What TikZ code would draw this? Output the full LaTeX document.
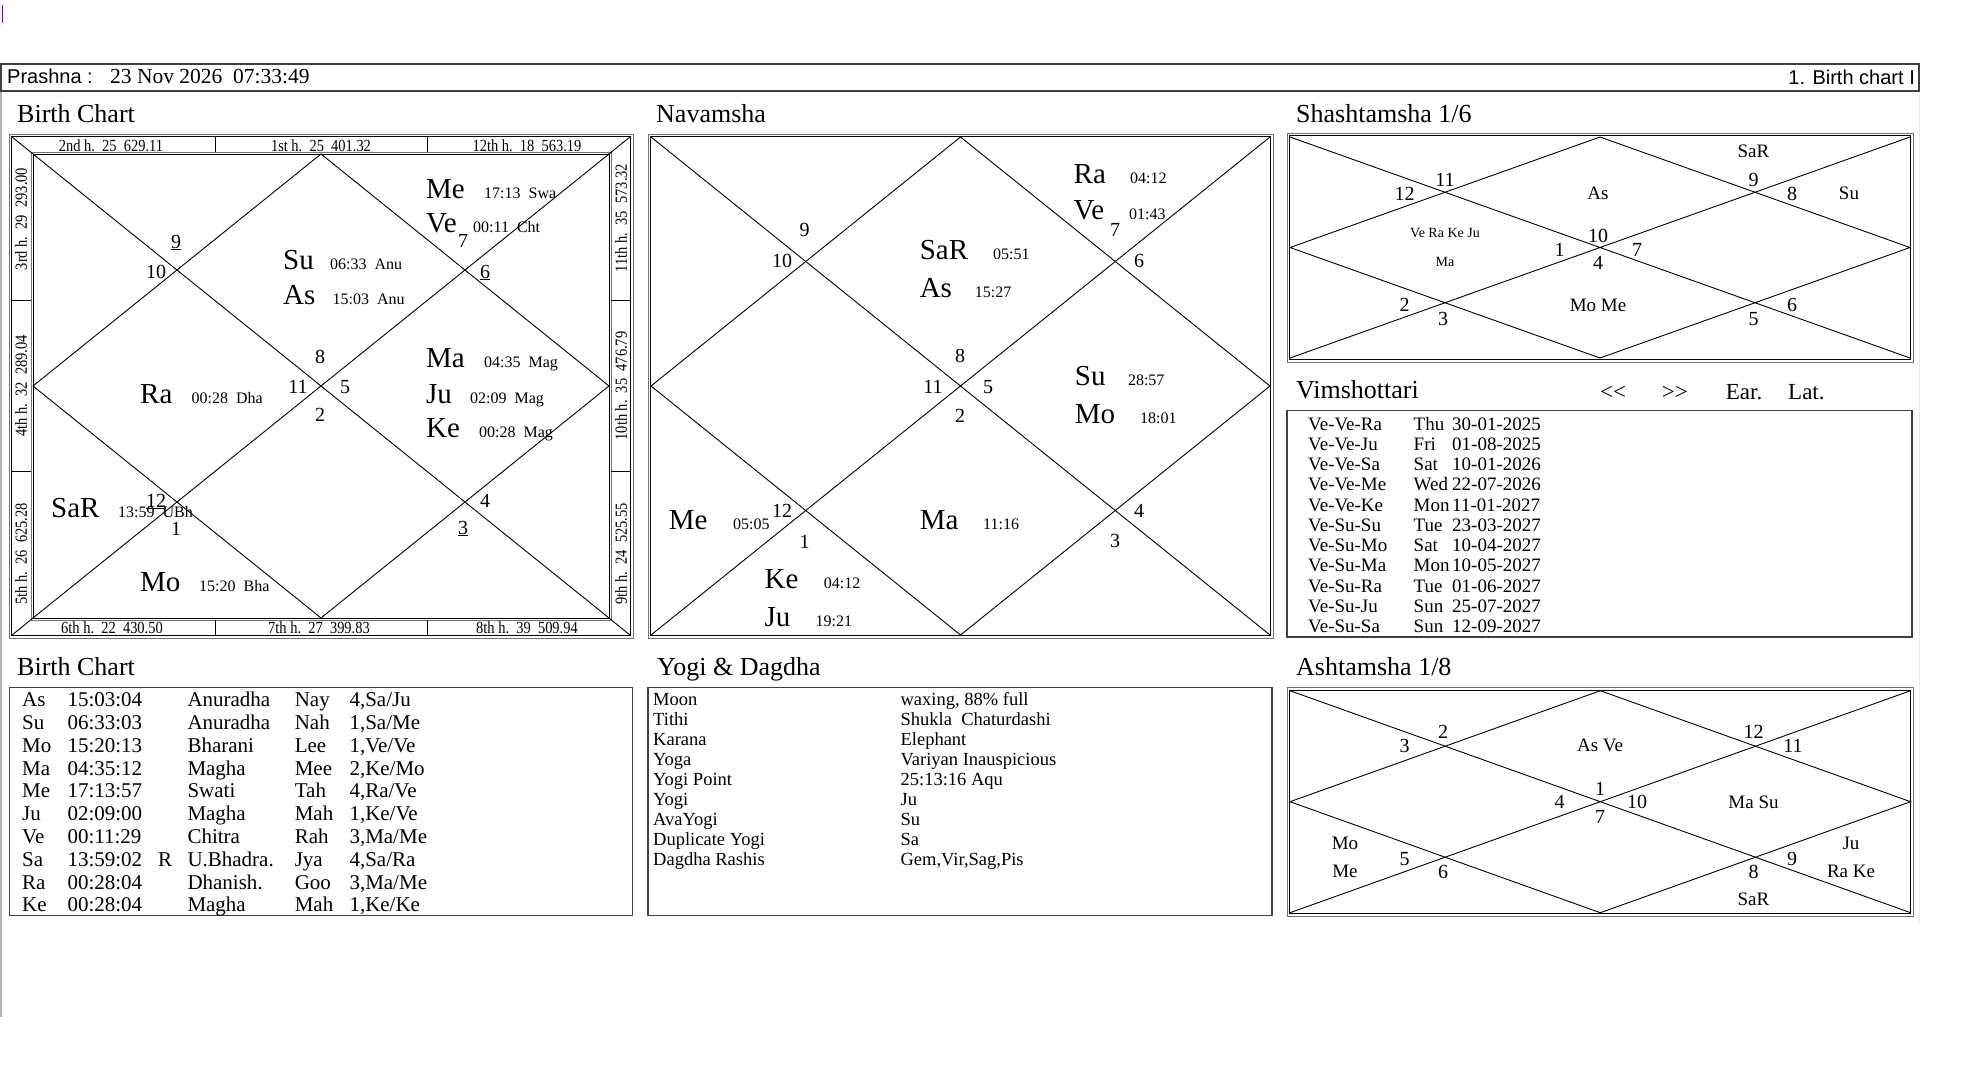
\documentclass[tikz,border=0pt]{standalone}
\usepackage{fontspec}
\setmainfont{Liberation Serif}
\newfontfamily\headfont{Liberation Sans}
\newfontfamily\stripfont[FakeStretch=0.85]{Liberation Serif}
\usetikzlibrary{calc}

\tikzset{
  every node/.append style={inner sep=0pt},
  paneltitle/.style={font=\fontsize{26}{26}\selectfont, anchor=base west},
  planet/.style={font=\fontsize{29}{29}\selectfont, anchor=base west},
  planetdeg/.style={font=\fontsize{16}{16}\selectfont, anchor=base west},
  signno/.style={font=\fontsize{20}{20}\selectfont, anchor=base},
  vargalbl/.style={font=\fontsize{19}{19}\selectfont, anchor=base},
  housestrip/.style={font=\stripfont\fontsize{17}{17}\selectfont},
  tabrow/.style={font=\fontsize{#1}{#1}\selectfont, anchor=base west},
  chartline/.style={line width=0.9pt},
  boxline/.style={line width=1.2pt, black!75},
}

% diagonals and diamond of a north indian chart
\newcommand{\chartlines}[4]{%
  \pgfmathsetmacro{\cmidx}{(#1+#3)/2}%
  \pgfmathsetmacro{\cmidy}{(#2+#4)/2}%
  \draw[chartline] (#1,#2) -- (#3,#4) (#3,#2) -- (#1,#4);
  \draw[chartline] (\cmidx,#2) -- (#3,\cmidy) -- (\cmidx,#4) -- (#1,\cmidy) -- cycle;
}
% double frame
\newcommand{\chartframe}[4]{%
  \draw[line width=1pt, black!55] (#1,#2) rectangle (#3,#4);
  \draw[line width=1pt] ($(#1,#2)+(2.5,2.5)$) rectangle ($(#3,#4)+(-2.5,-2.5)$);
}

\begin{document}
\begin{tikzpicture}[x=1pt,y=-1pt]
  \useasboundingbox[fill=white] (0,0) rectangle (1968,1084);
  % window edges
    \draw[violet, line width=1pt] (2,5) -- (2,23);
    \draw[gray!60, line width=1.5pt] (1,91) -- (1,1017);
    \draw[gray!15, line width=1pt] (1919.5,91) -- (1919.5,922);
  % header
    \draw[boxline] (1,64) rectangle (1919,91);
    \node[anchor=base west, font=\headfont\fontsize{20}{20}\selectfont] (hd-kind) at (7,83) {Prashna :};
    \node[anchor=base west, font=\fontsize{21.5}{21.5}\selectfont] (hd-date) at (110,83) {23 Nov 2026~~07:33:49};
    \node[anchor=base east, font=\headfont\fontsize{20}{20}\selectfont] (hd-tab) at (1915,84) {1. Birth chart I};

  % birth chart
    \node[paneltitle] (t-rasi) at (17,122) {Birth Chart};
    \chartframe{9}{134}{633}{638}
    \draw[line width=1pt, black!55] (31,152) rectangle (611,620);
    \draw[line width=1pt] (33,154) rectangle (609,618);
    \foreach \a/\b/\c/\d in {11.5/136.5/33/154, 630.5/136.5/609/154, 630.5/635.5/609/618, 11.5/635.5/33/618}
        \draw[chartline] (\a,\b) -- (\c,\d);
    \foreach \x in {215.5,427}{
        \draw[chartline] (\x,136.5) -- (\x,152);
        \draw[chartline] (\x,620) -- (\x,635.5);
    }
    \foreach \y in {300.7,471.7}{
        \draw[chartline] (11.5,\y) -- (31,\y);
        \draw[chartline] (611,\y) -- (630.5,\y);
    }
    \chartlines{33}{154}{609}{618}
    \foreach \x/\h [count=\i] in {111/{2nd h.~~25~~629.11}, 321/{1st h.~~25~~401.32}, 527/{12th h.~~18~~563.19}}
        \node[housestrip, anchor=base] (hs-t\i) at (\x,151) {\h};
    \foreach \x/\h [count=\i] in {112/{6th h.~~22~~430.50}, 319/{7th h.~~27~~399.83}, 527/{8th h.~~39~~509.94}}
        \node[housestrip, anchor=base] (hs-b\i) at (\x,633) {\h};
    \foreach \y/\h [count=\i] in {219/{3rd h.~~29~~293.00}, 386/{4th h.~~32~~289.04}, 554/{5th h.~~26~~625.28}}
        \node[housestrip, rotate=90] (hs-l\i) at (21,\y) {\h};
    \foreach \y/\h [count=\i] in {218/{11th h.~~35~~573.32}, 386/{10th h.~~35~~476.79}, 554/{9th h.~~24~~525.55}}
        \node[housestrip, rotate=90] (hs-r\i) at (621,\y) {\h};
    \foreach \p/\x/\y/\d/\dx [count=\i] in {Me/426/198/{17:13\enspace Swa}/484, Ve/426/232/{00:11\enspace Cht}/473,
        Su/283/269/{06:33\enspace Anu}/330, As/283/304/{15:03\enspace Anu}/332.5, Ma/426/367/{04:35\enspace Mag}/484,
        Ra/140/403/{00:28\enspace Dha}/191.5, Ju/426/403/{02:09\enspace Mag}/470, Ke/426/437/{00:28\enspace Mag}/479,
        SaR/51/517/{13:59\enspace UBh}/118, Mo/140/591/{15:20\enspace Bha}/199}{
        \node[planet] (bc-p\i) at (\x,\y) {\p};
        \node[planetdeg] (bc-d\i) at (\dx,\y) {\d};
    }
    \foreach \n/\x/\y [count=\i] in {{\underline{9}}/176/248, 10/156/278, 7/463/247, {\underline{6}}/485/278,
        8/320/363, 11/298/393, 5/345/393, 2/320/421,
        {\underline{12}}/156/507, 1/176/535, 4/485/507, {\underline{3}}/463/534}
        \node[signno] (bc-n\i) at (\x,\y) {\n};

  % navamsha
    \node[paneltitle] (t-nav) at (656,122) {Navamsha};
    \chartframe{648}{134}{1273}{638}
    \chartlines{651}{137}{1270}{635}
    \foreach \p/\x/\y/\d/\dx [count=\i] in {Ra/1073.5/183/04:12/1130, Ve/1073.5/219/01:43/1129,
        SaR/919.6/259/05:51/993, As/919.6/297/15:27/974.7, Su/1074.7/385/28:57/1127.8,
        Mo/1074.7/423/18:01/1140, Me/668.6/529/05:05/733, Ma/919.6/529/11:16/983,
        Ke/764.5/588/04:12/823.7, Ju/764.5/626/19:21/815.5}{
        \node[planet] (nv-p\i) at (\x,\y) {\p};
        \node[planetdeg] (nv-d\i) at (\dx,\y) {\d};
    }
    \foreach \n/\x/\y in {9/804.5/236, 7/1115/236, 10/782/267, 6/1139/267, 8/960/362, 11/933/393,
        5/988/393, 2/960/422, 12/782/517, 4/1139/517, 1/804.5/548, 3/1115/547}
        \node[signno] (nv-n\n) at (\x,\y) {\n};

  % shashtamsha
    \node[paneltitle] (t-d6) at (1296,122) {Shashtamsha 1/6};
    \chartframe{1287}{133}{1913}{362}
    \chartlines{1290}{137}{1910}{358}
    \foreach \t/\x/\y [count=\i] in {SaR/1753.5/157, As/1598/199, Su/1849/199, Mo Me/1598/311}
        \node[vargalbl] (d6-p\i) at (\x,\y) {\t};
    \node[vargalbl, font=\fontsize{14}{14}\selectfont] (d6-p5) at (1445,237) {Ve Ra Ke Ju};
    \node[vargalbl, font=\fontsize{14}{14}\selectfont] (d6-p6) at (1445,266) {Ma};
    \foreach \n/\x/\y in {11/1445/186, 12/1404.5/200, 9/1753.5/186, 8/1792/200, 10/1598/242, 1/1559.6/256,
        7/1637/256, 4/1598/269, 2/1404.5/311, 3/1443/325, 6/1792/311, 5/1753.5/325}
        \node[signno] (d6-n\n) at (\x,\y) {\n};

  % vimshottari
    \node[paneltitle] (t-dasa) at (1296,398) {Vimshottari};
    \foreach \t/\x [count=\i] in {<\kern0pt</1600, >\kern0pt>/1661.6, Ear./1725.7, Lat./1788}
        \node[tabrow=23] (ds-c\i) at (\x,399) {\t};
    \draw[boxline] (1287,410.7) rectangle (1912,637);
    \foreach \a/\w/\d [count=\i from 0] in {Ve-Ve-Ra/Thu/30-01-2025, Ve-Ve-Ju/Fri/01-08-2025, Ve-Ve-Sa/Sat/10-01-2026,
        Ve-Ve-Me/Wed/22-07-2026, Ve-Ve-Ke/Mon/11-01-2027, Ve-Su-Su/Tue/23-03-2027, Ve-Su-Mo/Sat/10-04-2027,
        Ve-Su-Ma/Mon/10-05-2027, Ve-Su-Ra/Tue/01-06-2027, Ve-Su-Ju/Sun/25-07-2027, Ve-Su-Sa/Sun/12-09-2027}{
        \node[tabrow=19] (ds-a\i) at (1308,430+20.27*\i) {\a};
        \node[tabrow=19] (ds-w\i) at (1413.5,430+20.27*\i) {\w};
        \node[tabrow=19] (ds-d\i) at (1452,430+20.27*\i) {\d};
    }

  % birth chart table
    \node[paneltitle] (t-table) at (17,675) {Birth Chart};
    \draw[boxline] (9.3,687.7) rectangle (632.6,915.3);
    \foreach \p/\t/\k/\s/\q [count=\i from 0] in {As/15:03:04/Anuradha/Nay/{4,Sa/Ju}, Su/06:33:03/Anuradha/Nah/{1,Sa/Me},
        Mo/15:20:13/Bharani/Lee/{1,Ve/Ve}, Ma/04:35:12/Magha/Mee/{2,Ke/Mo}, Me/17:13:57/Swati/Tah/{4,Ra/Ve},
        Ju/02:09:00/Magha/Mah/{1,Ke/Ve}, Ve/00:11:29/Chitra/Rah/{3,Ma/Me}, Sa/13:59:02/U.Bhadra./Jya/{4,Sa/Ra},
        Ra/00:28:04/Dhanish./Goo/{3,Ma/Me}, Ke/00:28:04/Magha/Mah/{1,Ke/Ke}}{
        \node[tabrow=21] (tb-p\i) at (22,706.7+22.8*\i) {\p};
        \node[tabrow=21] (tb-t\i) at (67.3,706.7+22.8*\i) {\t};
        \node[tabrow=21] (tb-k\i) at (187.3,706.7+22.8*\i) {\k};
        \node[tabrow=21] (tb-s\i) at (294.6,706.7+22.8*\i) {\s};
        \node[tabrow=21] (tb-q\i) at (349.3,706.7+22.8*\i) {\q};
    }
    \node[tabrow=21] (tb-retro) at (157.8,706.7+22.8*7) {R};

  % yogi and dagdha
    \node[paneltitle] (t-yogi) at (657,675) {Yogi \& Dagdha};
    \draw[boxline] (648,687.7) rectangle (1272,915.3);
    \foreach \k/\v [count=\i from 0] in {Moon/{waxing, 88\% full}, Tithi/Shukla~~Chaturdashi, Karana/Elephant,
        Yoga/Variyan Inauspicious, Yogi Point/25:13:16 Aqu, Yogi/Ju, AvaYogi/Su, Duplicate Yogi/Sa,
        Dagdha Rashis/{Gem,Vir,Sag,Pis}}{
        \node[tabrow=18.5] (yg-k\i) at (653,705.7+20*\i) {\k};
        \node[tabrow=18.5] (yg-v\i) at (900.4,705.7+20*\i) {\v};
    }

  % ashtamsha
    \node[paneltitle] (t-d8) at (1296,675) {Ashtamsha 1/8};
    \chartframe{1287}{687.7}{1913}{916}
    \chartlines{1290}{690.7}{1910.6}{912.7}
    \foreach \t/\x/\y [count=\i] in {As Ve/1600/751, Ma Su/1753.5/808, Mo/1345/849, Me/1345/877,
        Ju/1851/849, Ra Ke/1851/877, SaR/1753.5/905}
        \node[vargalbl] (d8-p\i) at (\x,\y) {\t};
    \foreach \n/\x/\y in {2/1443/738, 3/1404.5/752, 12/1753.5/738, 11/1793/752, 1/1600/795, 4/1559.6/808,
        10/1637/808, 7/1600/823, 5/1404.5/865, 6/1443/878, 9/1792/865, 8/1753.5/878}
        \node[signno] (d8-n\n) at (\x,\y) {\n};
\end{tikzpicture}
\end{document}
